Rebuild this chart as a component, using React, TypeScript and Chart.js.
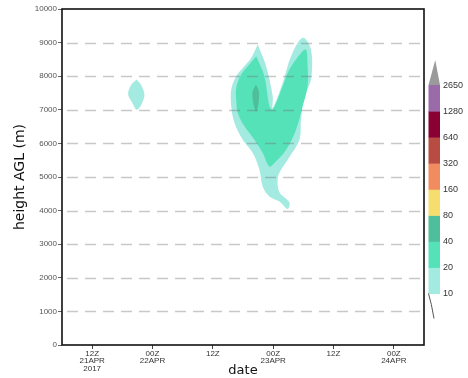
import React, { useEffect, useRef } from "react";
import { Chart, registerables } from "chart.js";

Chart.register(...registerables);

// x axis: hours since 06Z 21 APR 2017
const tickHours = [6, 18, 30, 42, 54, 66];
const tickLabels = [
  ["12Z", "21APR", "2017"],
  ["00Z", "22APR"],
  ["12Z"],
  ["00Z", "23APR"],
  ["12Z"],
  ["00Z", "24APR"],
];

// contour polygons: [hour, height m]
const smallBlob10: number[][] = [
  [14.82, 7899], [15.67, 7750], [16.4, 7452], [15.87, 7183], [14.88, 7004],
  [14.08, 7183], [13.15, 7452], [13.69, 7720],
];
const bigBlob10: number[][] = [
  [38.93, 8942], [40.6, 8295], [41.91, 7401], [41.91, 7055], [43.89, 7800],
  [45.56, 8593], [47.86, 9141], [49.52, 8793], [49.52, 7899], [48.2, 7401],
  [47.54, 6706], [47.21, 6110], [44.88, 5514], [43.57, 5216], [42.9, 4962],
  [43.24, 4545], [45.22, 4247], [44.88, 4047], [43.24, 4271], [41.25, 4420],
  [39.92, 4718], [39.27, 5216], [37.94, 5714], [35.96, 6110], [34.31, 6608],
  [33.66, 7103], [33.66, 7601], [34.65, 7997], [35.96, 8247], [37.62, 8545],
];
const bigBlob20: number[][] = [
  [38.62, 8593], [40.26, 7997], [41.25, 7103], [41.91, 7004], [43.89, 7699],
  [45.22, 8197], [47.54, 8694], [48.53, 8793], [48.85, 8295], [48.85, 7699],
  [47.86, 7103], [46.55, 6408], [44.57, 5812], [42.25, 5416], [41.25, 5314],
  [39.92, 5714], [38.28, 6110], [36.3, 6507], [34.97, 6906], [34.65, 7303],
  [34.65, 7651], [35.64, 8048], [36.95, 8295],
];
const bigBlob40: number[][] = [
  [38.58, 7750], [39.17, 7541], [39.07, 7183], [38.62, 6954], [38.08, 7183],
  [37.88, 7511],
];

const levelLabels = ["10", "20", "40", "80", "160", "320", "640", "1280", "2650"];
const levelColors = [
  "#a3eae0", "#56e2b9", "#4fbe9b", "#f6de6e", "#f18c61",
  "#b94c42", "#8a0032", "#9a6aa9",
];
const overColor = "#9a9a9a";

const closed = (pts: number[][]) =>
  [...pts, pts[0]].map(([x, y]) => ({ x, y }));

const frameAndOverlay = {
  id: "frameAndOverlay",
  afterDatasetsDraw(chart: any) {
    const { ctx, chartArea } = chart;
    const y = chart.scales.y;
    ctx.save();
    // dashed gridlines
    ctx.strokeStyle = "rgba(110,110,110,0.38)";
    ctx.lineWidth = 1.3;
    ctx.setLineDash([11, 7]);
    for (let v = 1000; v < 10000; v += 1000) {
      const py = Math.round(y.getPixelForValue(v)) + 0.5;
      ctx.beginPath();
      ctx.moveTo(chartArea.left + 5, py);
      ctx.lineTo(chartArea.right, py);
      ctx.stroke();
    }
    ctx.setLineDash([]);
    // frame
    ctx.strokeStyle = "#111";
    ctx.lineWidth = 1.6;
    ctx.strokeRect(chartArea.left, chartArea.top, chartArea.right - chartArea.left, chartArea.bottom - chartArea.top);

    // colorbar
    const cbL = chartArea.right + 4.5;
    const cbW = 11.5;
    const cbBottom = 293.5;
    const seg = 26.06;
    levelColors.forEach((c, i) => {
      ctx.fillStyle = c;
      ctx.fillRect(cbL, cbBottom - (i + 1) * seg, cbW, seg + 0.5);
    });
    const top = cbBottom - levelColors.length * seg;
    ctx.fillStyle = overColor;
    ctx.beginPath();
    ctx.moveTo(cbL, top);
    ctx.lineTo(cbL + cbW, top);
    ctx.lineTo(cbL + cbW / 2 + 1, top - 25);
    ctx.closePath();
    ctx.fill();
    // tail
    ctx.strokeStyle = "#555";
    ctx.lineWidth = 1;
    ctx.beginPath();
    ctx.moveTo(cbL, cbBottom);
    ctx.quadraticCurveTo(cbL + 3, cbBottom + 10, cbL + 5.5, cbBottom + 25);
    ctx.stroke();
    // labels
    ctx.fillStyle = "#333";
    ctx.font = "9px 'Liberation Sans', Arial, sans-serif";
    ctx.textBaseline = "middle";
    ctx.textAlign = "left";
    levelLabels.forEach((t, i) => {
      ctx.fillText(t, cbL + cbW + 3, cbBottom - i * seg + 0.5);
    });
    ctx.restore();
  },
};

export default function App() {
  const ref = useRef<HTMLCanvasElement | null>(null);
  useEffect(() => {
    if (!ref.current) return;
    const mk = (pts: number[][], color: string, order: number) => ({
      data: closed(pts),
      backgroundColor: color,
      borderColor: color,
      borderWidth: 0,
      pointRadius: 0,
      fill: "shape",
      tension: 0.35,
      order,
    });
    const chart = new Chart(ref.current, {
      type: "line",
      data: {
        datasets: [
          mk(smallBlob10, levelColors[0], 4),
          mk(bigBlob10, levelColors[0], 3),
          mk(bigBlob20, levelColors[1], 2),
          mk(bigBlob40, levelColors[2], 1),
        ] as any,
      },
      options: {
        animation: false,
        responsive: false,
        maintainAspectRatio: false,
        layout: { padding: { top: 9, right: 44, left: 0, bottom: 0 } },
        plugins: { legend: { display: false }, tooltip: { enabled: false } },
        scales: {
          x: {
            type: "linear",
            min: 0,
            max: 72,
            afterBuildTicks: (s: any) => {
              s.ticks = tickHours.map((v) => ({ value: v }));
            },
            afterFit: (s: any) => {
              s.height = 33;
            },
            ticks: {
              autoSkip: false,
              maxRotation: 0,
              padding: 1,
              color: "#333",
              font: { size: 8, family: "'Liberation Sans', Arial, sans-serif", lineHeight: 0.92 },
              callback: (_v: any, i: number) => tickLabels[i],
            },
            grid: { drawOnChartArea: false, drawTicks: true, tickLength: 4, tickColor: "#444" },
            border: { display: false },
            title: {
              display: true,
              text: "date",
              color: "#111",
              font: { size: 13, family: "'DejaVu Sans', sans-serif" },
              padding: { top: 0, bottom: 0 },
            },
          },
          y: {
            min: 0,
            max: 10000,
            afterFit: (s: any) => {
              s.width = 62;
            },
            ticks: {
              stepSize: 1000,
              padding: 1,
              color: "#555",
              font: { size: 8, family: "'Liberation Sans', Arial, sans-serif" },
              callback: (v: any) => String(v),
            },
            grid: { drawOnChartArea: false, drawTicks: true, tickLength: 4, tickColor: "#666" },
            border: { display: false },
            title: {
              display: true,
              text: "height AGL (m)",
              color: "#111",
              font: { size: 14, family: "'DejaVu Sans', sans-serif" },
              padding: { top: 12, bottom: 0 },
            },
          },
        },
      },
      plugins: [frameAndOverlay],
    });
    return () => chart.destroy();
  }, []);
  return (
    <div style={{ position: "fixed", left: 0, top: 0, width: 468, height: 378, background: "#fff" }}>
      <canvas ref={ref} width={468} height={378} style={{ width: 468, height: 378 }} />
    </div>
  );
}
